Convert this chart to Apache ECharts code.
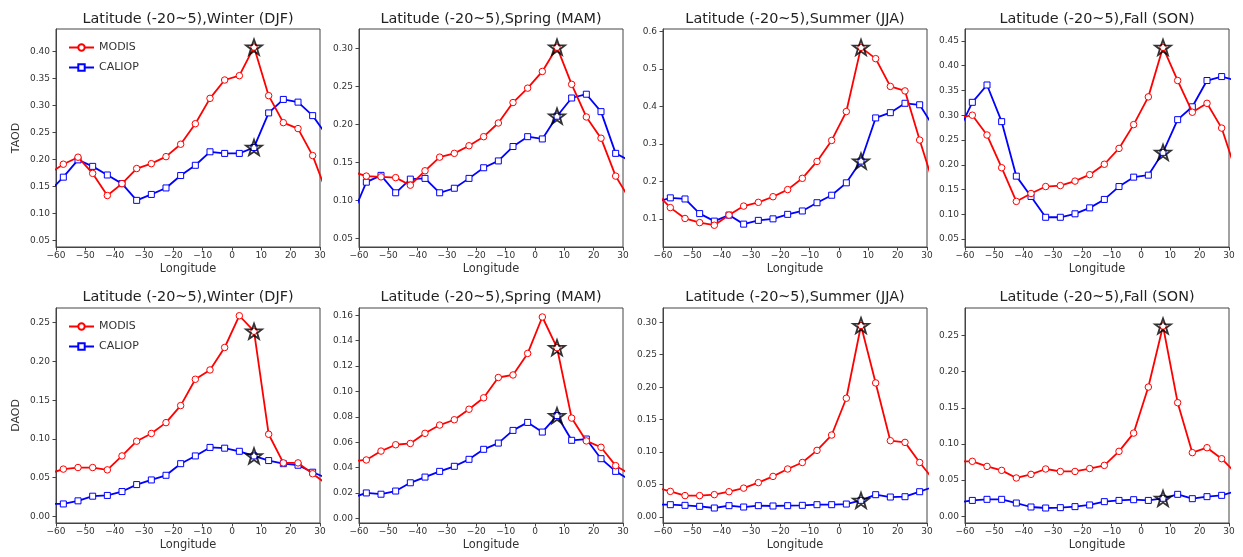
<!DOCTYPE html>
<html>
<head>
<meta charset="utf-8">
<script src="https://cdn.jsdelivr.net/npm/echarts@6/dist/echarts.min.js"></script>
<style>
  html, body { margin: 0; padding: 0; background: #fff; }
  #chart { width: 1243px; height: 557px; }
</style>
</head>
<body>
<div id="chart"></div>
<script>
// 5-degree longitude bins; the first and last bin lie just outside the -60..30 window
const lon = [-62.5, -57.5, -52.5, -47.5, -42.5, -37.5, -32.5, -27.5, -22.5, -17.5,
             -12.5, -7.5, -2.5, 2.5, 7.5, 12.5, 17.5, 22.5, 27.5, 32.5];
const peakLon = 7.5; // longitude marked with a star

const seasons = ['Winter (DJF)', 'Spring (MAM)', 'Summer (JJA)', 'Fall (SON)'];
const rowNames = ['TAOD', 'DAOD'];

// TAOD
const taodDjfModis  = [0.173, 0.191, 0.204, 0.174, 0.133, 0.155, 0.183, 0.192, 0.205, 0.228, 0.266, 0.313, 0.347, 0.355, 0.408, 0.318, 0.268, 0.257, 0.207, 0.135];
const taodDjfCaliop = [0.139, 0.167, 0.199, 0.187, 0.171, 0.155, 0.124, 0.135, 0.147, 0.170, 0.189, 0.214, 0.211, 0.211, 0.222, 0.286, 0.311, 0.306, 0.281, 0.243];
const taodMamModis  = [0.138, 0.132, 0.131, 0.130, 0.120, 0.139, 0.157, 0.162, 0.172, 0.184, 0.202, 0.229, 0.248, 0.270, 0.302, 0.253, 0.210, 0.182, 0.132, 0.100];
const taodMamCaliop = [0.078, 0.124, 0.133, 0.110, 0.128, 0.129, 0.110, 0.116, 0.129, 0.143, 0.152, 0.171, 0.184, 0.181, 0.211, 0.235, 0.240, 0.217, 0.162, 0.152];
const taodJjaModis  = [0.170, 0.130, 0.101, 0.090, 0.083, 0.110, 0.134, 0.144, 0.159, 0.178, 0.208, 0.253, 0.309, 0.386, 0.557, 0.527, 0.453, 0.441, 0.310, 0.186];
const taodJjaCaliop = [0.144, 0.156, 0.153, 0.114, 0.094, 0.110, 0.086, 0.096, 0.100, 0.112, 0.121, 0.143, 0.163, 0.196, 0.254, 0.369, 0.383, 0.408, 0.404, 0.342];
const taodSonModis  = [0.294, 0.300, 0.260, 0.194, 0.126, 0.142, 0.156, 0.158, 0.167, 0.180, 0.201, 0.233, 0.281, 0.337, 0.437, 0.370, 0.306, 0.324, 0.274, 0.184];
const taodSonCaliop = [0.264, 0.326, 0.361, 0.287, 0.177, 0.136, 0.094, 0.094, 0.101, 0.113, 0.130, 0.156, 0.175, 0.179, 0.225, 0.291, 0.317, 0.370, 0.378, 0.370];

// DAOD
const daodDjfModis  = [0.055, 0.061, 0.063, 0.063, 0.060, 0.078, 0.097, 0.107, 0.121, 0.143, 0.177, 0.189, 0.218, 0.259, 0.239, 0.106, 0.069, 0.069, 0.055, 0.041];
const daodDjfCaliop = [0.016, 0.016, 0.020, 0.026, 0.027, 0.032, 0.041, 0.047, 0.053, 0.068, 0.078, 0.089, 0.088, 0.084, 0.078, 0.072, 0.068, 0.066, 0.057, 0.049];
const daodMamModis  = [0.045, 0.046, 0.053, 0.058, 0.059, 0.067, 0.0735, 0.0777, 0.086, 0.095, 0.111, 0.113, 0.130, 0.1587, 0.1345, 0.079, 0.061, 0.056, 0.0415, 0.0345];
const daodMamCaliop = [0.016, 0.020, 0.019, 0.0215, 0.028, 0.0325, 0.037, 0.041, 0.0465, 0.0544, 0.0593, 0.0693, 0.0756, 0.068, 0.081, 0.0615, 0.0625, 0.047, 0.037, 0.030];
const daodJjaModis  = [0.0455, 0.0395, 0.033, 0.033, 0.0345, 0.039, 0.0445, 0.053, 0.0626, 0.074, 0.084, 0.1027, 0.1263, 0.183, 0.295, 0.2066, 0.1176, 0.115, 0.084, 0.056];
const daodJjaCaliop = [0.019, 0.019, 0.018, 0.0165, 0.0139, 0.0175, 0.0154, 0.0175, 0.017, 0.0175, 0.018, 0.019, 0.019, 0.020, 0.0257, 0.0344, 0.0308, 0.0313, 0.039, 0.047];
const daodSonModis  = [0.076, 0.076, 0.069, 0.0635, 0.053, 0.058, 0.0654, 0.062, 0.062, 0.066, 0.0704, 0.0898, 0.115, 0.1786, 0.2629, 0.157, 0.088, 0.0948, 0.0796, 0.059];
const daodSonCaliop = [0.019, 0.022, 0.0235, 0.0235, 0.0184, 0.0129, 0.0115, 0.012, 0.0134, 0.0157, 0.0203, 0.022, 0.023, 0.022, 0.0249, 0.0304, 0.0244, 0.0272, 0.029, 0.035];

// y tick labels per panel
const ticksTaodDjf = ['0.05', '0.10', '0.15', '0.20', '0.25', '0.30', '0.35', '0.40'];
const ticksTaodMam = ['0.05', '0.10', '0.15', '0.20', '0.25', '0.30'];
const ticksTaodJja = ['0.1', '0.2', '0.3', '0.4', '0.5', '0.6'];
const ticksTaodSon = ['0.05', '0.10', '0.15', '0.20', '0.25', '0.30', '0.35', '0.40', '0.45'];
const ticksDaodDjf = ['0.00', '0.05', '0.10', '0.15', '0.20', '0.25'];
const ticksDaodMam = ['0.00', '0.02', '0.04', '0.06', '0.08', '0.10', '0.12', '0.14', '0.16'];
const ticksDaodJja = ['0.00', '0.05', '0.10', '0.15', '0.20', '0.25', '0.30'];
const ticksDaodSon = ['0.00', '0.05', '0.10', '0.15', '0.20', '0.25'];

// y-axis limits (as autoscaled in the original)
const yLimits = [
  [0.0376, 0.4415], [0.0385, 0.326], [0.025, 0.606], [0.034, 0.474],
  [-0.0086, 0.269], [-0.0037, 0.1658], [-0.0092, 0.322], [-0.0092, 0.2878]
];

const panels = [
  [taodDjfModis, taodDjfCaliop, ticksTaodDjf],
  [taodMamModis, taodMamCaliop, ticksTaodMam],
  [taodJjaModis, taodJjaCaliop, ticksTaodJja],
  [taodSonModis, taodSonCaliop, ticksTaodSon],
  [daodDjfModis, daodDjfCaliop, ticksDaodDjf],
  [daodMamModis, daodMamCaliop, ticksDaodMam],
  [daodJjaModis, daodJjaCaliop, ticksDaodJja],
  [daodSonModis, daodSonCaliop, ticksDaodSon]
];

// layout (px)
const colLeft = [56, 359, 663, 965];
const plotW = 264;
const rowTop = [29, 308];
const rowH = [218, 215];
const titleY = [19, 297];

const FONT = 'DejaVu Sans';
const AXIS = '#444';
const TEXT = '#333';
const STAR = 'path://M0,-10L2.35,-3.24L9.51,-3.09L3.8,1.24L5.88,8.09L0,4L-5.88,8.09L-3.8,1.24L-9.51,-3.09L-2.35,-3.24Z';

const chart = echarts.init(document.getElementById('chart'));

const grid = [], xAxis = [], yAxis = [], series = [], graphic = [];
const peakIdx = lon.indexOf(peakLon);

panels.forEach(([modis, caliop, ticks], i) => {
  const row = Math.floor(i / 4), col = i % 4;
  grid.push({
    left: colLeft[col], top: rowTop[row], width: plotW, height: rowH[row],
    show: true, borderColor: AXIS, borderWidth: 1, backgroundColor: 'transparent'
  });
  xAxis.push({
    type: 'value', gridIndex: i, min: -60, max: 30, interval: 10,
    name: 'Longitude', nameLocation: 'middle', nameGap: 17,
    nameTextStyle: { fontFamily: FONT, fontSize: 11.4, color: TEXT },
    axisLine: { show: true, onZero: false, lineStyle: { color: AXIS, width: 1 } },
    axisTick: { show: true, length: 3.5, lineStyle: { color: AXIS } },
    axisLabel: {
      fontFamily: FONT, fontSize: 9, color: TEXT, margin: 4,
      formatter: v => (v < 0 ? '\u2212' + Math.abs(v) : String(v))
    },
    splitLine: { show: false }
  });
  const tickVals = ticks.map(Number);
  yAxis.push({
    type: 'value', gridIndex: i, min: yLimits[i][0], max: yLimits[i][1],
    name: col === 0 ? rowNames[row] : '', nameLocation: 'middle', nameGap: 34,
    nameTextStyle: { fontFamily: FONT, fontSize: 11, color: TEXT },
    axisLine: { show: true, onZero: false, lineStyle: { color: AXIS, width: 1 } },
    axisTick: { show: true, length: 3.5, lineStyle: { color: AXIS }, customValues: tickVals },
    axisLabel: {
      fontFamily: FONT, fontSize: 9, color: TEXT, margin: 6, customValues: tickVals,
      formatter: v => ticks.find(t => Math.abs(Number(t) - v) < 1e-9) || ''
    },
    splitLine: { show: false }
  });
  graphic.push({
    type: 'text', x: colLeft[col] + plotW / 2, y: titleY[row],
    style: {
      text: 'Latitude (-20~5),' + seasons[col], fontFamily: FONT, fontSize: 14.4,
      fill: '#222', textAlign: 'center', textVerticalAlign: 'middle'
    }
  });

  series.push({
    name: 'MODIS', type: 'line', xAxisIndex: i, yAxisIndex: i,
    data: lon.map((x, k) => [x, modis[k]]),
    symbol: 'circle', symbolSize: 6.5, clip: true,
    lineStyle: { color: '#ff0000', width: 1.8 },
    itemStyle: { color: '#ffffff', borderColor: '#ff0000', borderWidth: 1 },
    z: 3
  });
  series.push({
    name: 'CALIOP', type: 'line', xAxisIndex: i, yAxisIndex: i,
    data: lon.map((x, k) => [x, caliop[k]]),
    symbol: 'rect', symbolSize: 6, clip: true,
    lineStyle: { color: '#0000ff', width: 1.8 },
    itemStyle: { color: '#ffffff', borderColor: '#0000ff', borderWidth: 1 },
    z: 2
  });
  series.push({
    name: 'peak', type: 'scatter', xAxisIndex: i, yAxisIndex: i,
    data: [[peakLon, modis[peakIdx]], [peakLon, caliop[peakIdx]]],
    symbol: STAR, symbolSize: 16, symbolKeepAspect: true,
    itemStyle: { color: 'rgba(0,0,0,0)', borderColor: '#000', borderWidth: 1.8 },
    z: 4
  });
});

const legendBase = {
  data: ['MODIS', 'CALIOP'], orient: 'vertical', itemWidth: 25, itemHeight: 8, itemGap: 9,
  textStyle: { fontFamily: FONT, fontSize: 11, color: TEXT },
  selectedMode: false
};

chart.setOption({
  animation: false,
  backgroundColor: '#fff',
  textStyle: { fontFamily: FONT },
  legend: [
    Object.assign({ left: 63, top: 37 }, legendBase),
    Object.assign({ left: 63, top: 316 }, legendBase)
  ],
  grid, xAxis, yAxis, series, graphic
});
</script>
</body>
</html>
